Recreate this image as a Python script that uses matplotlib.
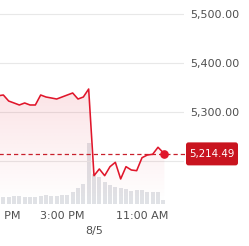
import numpy as np
import matplotlib
matplotlib.use("Agg")
import matplotlib.pyplot as plt
from matplotlib.patches import Polygon, FancyBboxPatch
from matplotlib.transforms import IdentityTransform

# intraday prices, 8/2 afternoon and 8/5 morning (10 minute steps)
day1_times = ["13:00", "13:10", "13:20", "13:30", "13:40", "13:50", "14:00", "14:10", "14:20",
              "14:30", "14:40", "14:50", "15:00", "15:20", "15:30", "15:40", "15:50"]
day1_prices = [5333.0, 5334.7, 5322.4, 5318.4, 5314.3, 5318.4, 5314.3, 5314.3, 5334.7,
               5330.6, 5328.6, 5326.5, 5330.6, 5338.8, 5326.5, 5330.6, 5346.9]
day2_times = ["9:30", "9:40", "9:50", "10:00", "10:10", "10:20", "10:30", "10:40", "10:50",
              "11:00", "11:10", "11:20", "11:30", "11:35", "11:42"]
day2_prices = [5170.0, 5183.7, 5170.0, 5188.4, 5197.3, 5163.3, 5188.4, 5181.6, 5180.2,
               5206.7, 5212.2, 5213.7, 5228.0, 5222.4, 5214.49]

# volume bars
day1_bar_times = ["13:10", "13:20", "13:30", "13:40", "13:50", "14:00", "14:10", "14:20", "14:30",
                  "14:40", "14:50", "15:00", "15:10", "15:20", "15:30", "15:40", "15:50"]
day1_volume = [29, 29, 33, 33, 29, 29, 29, 33, 37, 33, 33, 37, 37, 48, 65, 80, 244]
day2_bar_times = ["9:30", "9:40", "9:50", "10:00", "10:10", "10:20", "10:30", "10:40", "10:50",
                  "11:00", "11:10", "11:20", "11:30", "11:40"]
day2_volume = [120, 108, 88, 76, 68, 64, 60, 52, 56, 56, 48, 48, 48, 16]

grid_levels = [5200, 5300, 5400, 5500]
labelled_levels = [5300, 5400, 5500]  # 5,200 sits behind the price tag
x_tick_times = [("13:00", 0), ("15:00", 0), ("11:00", 1)]
x_tick_labels = ["1:00 PM", "3:00 PM", "11:00 AM"]
day_label = "8/5"

RED = "#e0162b"
BOX_RED = "#c9141f"
TEXT = "#505050"


def trading_minutes(t, day):
    # minutes on a joined session axis: 1:00 PM day 1 = 0, 9:30 AM day 2 = 180
    h, m = map(int, t.split(":"))
    if day == 0:
        return h * 60 + m - 13 * 60
    return 180 + h * 60 + m - (9 * 60 + 30)


x_line = np.array([trading_minutes(t, 0) for t in day1_times] +
                  [trading_minutes(t, 1) for t in day2_times])
y_line = np.array(day1_prices + day2_prices)
x_bars = [trading_minutes(t, 0) for t in day1_bar_times] + [trading_minutes(t, 1) for t in day2_bar_times]
vols = day1_volume + day2_volume
last = y_line[-1]

plt.rcParams['font.family'] = ['DejaVu Sans']

fig = plt.figure(figsize=(2.49, 2.46), dpi=100)
rect = [-2 / 249, 42 / 246, 186 / 249, 204 / 246]
xlim = (0, 348.75)
ylim = (5112.2, 5528.6)

vax = fig.add_axes(rect, zorder=0)
vax.bar(x_bars, vols, width=7.5, color="#e0e2e6", linewidth=0)
vax.set_xlim(*xlim)
vax.set_ylim(0, 816)
vax.axis("off")

ax = fig.add_axes(rect, zorder=1)
ax.patch.set_visible(False)
for s in ax.spines.values():
    s.set_visible(False)

for lvl in grid_levels:
    ax.axhline(lvl, color="#e8e8e8", lw=0.8, zorder=0.5)

# gradient fill under the line
verts = list(zip(x_line, y_line)) + [(x_line[-1], ylim[0]), (x_line[0], ylim[0])]
poly = Polygon(verts, closed=True, facecolor="none", edgecolor="none", transform=ax.transData)
ax.add_patch(poly)
rgb = matplotlib.colors.to_rgb(RED)
grad = np.zeros((256, 1, 4))
grad[..., 0], grad[..., 1], grad[..., 2] = rgb
grad[..., 3] = np.linspace(0.12, 0.0, 256)[:, None]
im = ax.imshow(grad, extent=[x_line[0], x_line[-1], ylim[0], y_line.max()], aspect="auto",
               origin="upper", zorder=1, interpolation="bilinear")
im.set_clip_path(poly)

ax.plot(x_line, y_line, color=RED, lw=1.15, zorder=3, solid_joinstyle="round")
ax.plot(x_line[-1], last, "o", color=RED, ms=5.2, zorder=4)
ax.axhline(last, color="#c8202c", lw=0.9, dashes=(3.4, 2.4), xmax=1.012, clip_on=False, zorder=2)

ax.set_xlim(*xlim)
ax.set_ylim(*ylim)
ax.set_yticks(labelled_levels)
ax.set_yticklabels([f"{v:,.2f}" for v in labelled_levels])
ax.yaxis.tick_right()
ax.tick_params(axis="y", length=0, pad=4.5, labelsize=8, labelcolor=TEXT)

ax.set_xticks([trading_minutes(t, d) for t, d in x_tick_times])
ax.set_xticklabels(x_tick_labels)
ax.tick_params(axis="x", length=0, pad=5, labelsize=8, labelcolor=TEXT)
ax.annotate(day_label, xy=(180, 0), xycoords=("data", "axes fraction"), xytext=(0, -19.5),
            textcoords="offset points", ha="center", va="center", fontsize=8, color=TEXT)

# price tag on the right, drawn in pixels around the last price level
ypix = ax.transData.transform((0, last))[1]
tag = FancyBboxPatch((186, ypix - 11.5), 52, 23, boxstyle="round,pad=0,rounding_size=2.5",
                     fc=BOX_RED, ec="none", transform=IdentityTransform(), zorder=5)
fig.patches.append(tag)
fig.text(212 / 249, ypix / 246, f"{last:,.2f}", ha="center", va="center",
         fontsize=7.4, color="white", zorder=6)

fig.savefig("out.png", dpi=100)
